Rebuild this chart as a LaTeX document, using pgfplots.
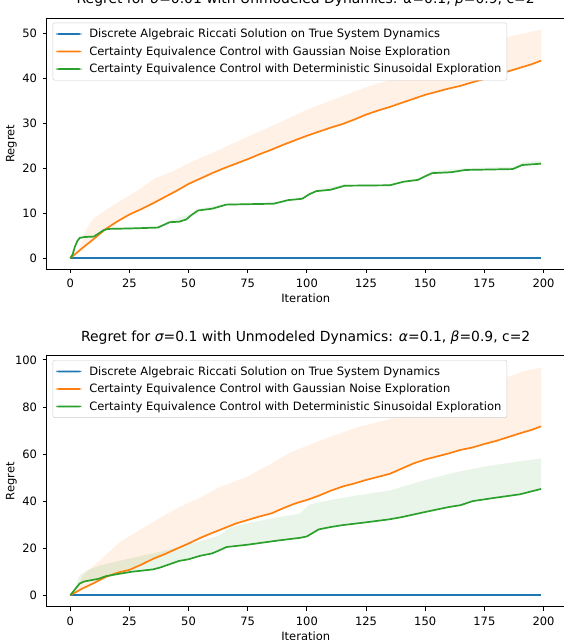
\documentclass[border=0pt]{standalone}
\usepackage{fontspec}
\setmainfont{DejaVu Sans}
\usepackage{pgfplots}
\usepackage{pgfplotstable}
\pgfplotsset{compat=1.18}
\usepgfplotslibrary{fillbetween}

\definecolor{tabblue}{HTML}{1F77B4}
\definecolor{taborange}{HTML}{FF7F0E}
\definecolor{tabgreen}{HTML}{2CA02C}

% sigma = 0.01 : mean curves and upper edges of the shaded bands
\pgfplotstableread{
x y
0 0
5 2.2
10 4.3
15 6.5
20 8.2
25 9.7
30 10.9
35 12.2
40 13.6
45 15
50 16.5
55 17.7
60 18.9
65 20
70 21
75 22
80 23.1
85 24.1
90 25.2
95 26.2
100 27.2
105 28.1
110 29
115 29.8
120 30.8
125 31.9
130 32.8
135 33.6
140 34.5
145 35.4
150 36.3
155 37
160 37.7
165 38.3
170 39.1
175 39.8
180 40.7
185 41.5
190 42.3
195 43.1
199 43.9
}\orangeA
\pgfplotstableread{
x y
0 0
3 1.3
5 3.5
6 5.6
8 7.5
10 8.9
15 10.7
22 13
29 15.2
36 17.8
43 19.2
50 21.1
63 24.1
75 27
90 30.5
100 33
110 35
125 38
150 42
175 46.3
186 49.3
199 50.8
}\orangeAup
\pgfplotstableread{
x y
0 0
1 0.8
2 2.6
3 3.8
4 4.5
6 4.7
10 4.8
12 5.5
14 6.2
16 6.5
25 6.6
37 6.8
40 7.5
42 8
46 8.1
49 8.6
51 9.5
54 10.6
60 11
66 11.9
75 12
86 12.1
92 12.9
98 13.2
101 14.2
104 14.9
110 15.2
116 16.1
135 16.2
141 17
147 17.4
150 18.2
153 18.9
161 19.1
167 19.6
187 19.8
191 20.7
199 21
}\greenA
\pgfplotstableread{
x y
0 0
2 3
4 5
10 5.1
16 6.8
37 7.1
42 8.3
51 9.8
54 10.9
66 12.2
86 12.4
98 13.5
104 15.2
116 16.4
135 16.5
147 17.8
153 19.3
167 20
187 20.3
191 21.3
199 21.7
}\greenAup

% sigma = 0.1
\pgfplotstableread{
x y
0 0
5 2.8
10 5.2
15 7.8
20 9.6
25 10.8
30 13
35 15.5
40 17.5
45 19.8
50 22
55 24.4
60 26.5
65 28.5
70 30.5
75 32
80 33.5
85 34.8
90 37
95 39
100 40.5
105 42.3
110 44.4
115 46.2
120 47.5
125 49
130 50.3
135 51.6
140 53.8
145 56
150 57.7
155 59
160 60.3
165 61.8
170 62.8
175 64.3
180 65.6
185 67.2
190 68.8
195 70.3
199 71.8
}\orangeB
\pgfplotstableread{
x y
0 0
3 3
5 8
8 11
12.5 14.8
21 22.6
29 27.5
38 33
46 37.4
55 41.6
63 45.9
75 50.5
85 56
93 60.7
107 66.3
121 71.3
135 74.8
149 81.9
163 86.2
178 90.4
192 95.3
199 96.7
}\orangeBup
\pgfplotstableread{
x y
0 0
2 2.5
4 5
6 5.9
12 7
15 8.1
20 9
26 10
35 11
38 11.8
42 13.2
46 14.6
50 15.3
55 16.8
60 17.8
63 19.1
66 20.5
75 21.5
88 23.3
97 24.4
100 25
105 28
110 29
115 29.8
125 31
135 32.3
140 33.2
150 35.4
160 37.5
165 38.3
170 40
180 41.5
190 42.9
199 45.2
}\greenB
\pgfplotstableread{
x y
0 0
2 3.5
4 8.5
7 10.5
12.5 12.7
20 14.5
29 16.5
38 18.5
46 20.5
55 23
63 25.4
68 29
77 31
87 33
97 34.7
101 38.5
110 40.5
121 42.4
135 44.5
149 48.7
163 52.3
178 55.2
199 58.2
}\greenBup

\pgfplotsset{
  regret/.style={
    scale only axis, width=518pt, anchor=south west,
    xmin=-9.95, xmax=208.95,
    xtick={0,25,...,200},
    tick align=outside, tick pos=left,
    major tick length=4pt,
    every tick/.style={black, line width=0.9pt},
    axis line style={black, line width=0.9pt},
    /pgf/number format/assume math mode=true,
    ticklabel style={font=\fontsize{11.5}{13}\selectfont, inner sep=0pt},
    xticklabel style={anchor=north, yshift=-6pt},
    yticklabel style={anchor=east, xshift=-5.5pt},
    label style={font=\fontsize{11.5}{13}\selectfont},
    title style={font=\fontsize{13.9}{16}\selectfont, at={(0.5,1)}, anchor=base, yshift=8.3pt},
    xlabel=Iteration, ylabel=Regret,
    xlabel style={at={(axis description cs:0.5,0)}, anchor=center, yshift=-29.3pt},
    ylabel style={at={(axis description cs:-0.068,0.5)}, anchor=center},
    legend cell align=left,
    legend image code/.code={\fill[#1, draw=none] (0pt,-0.85pt) rectangle (25pt,0.85pt); \path (30pt,0pt);},
    legend style={at={(0,1)}, anchor=north west, xshift=6pt, yshift=-4.4pt,
      font=\fontsize{11.5}{13}\selectfont, draw=black!20, rounded corners=2pt,
      fill=white, row sep=3.3pt, inner ysep=4pt, inner xsep=3.5pt},
  },
  meanline/.style={line width=1.7pt},
  band/.style={draw=none, fill opacity=0.11, forget plot},
}

\begin{document}
\begin{tikzpicture}

% ---- sigma = 0.01
\begin{axis}[regret, at={(46.7pt,371pt)}, height=250.7pt,
  ymin=-2.4, ymax=53.3, ytick={0,10,...,50},
  title={Regret for {\itshape σ}=0.01 with Unmodeled Dynamics: {\itshape α}=0.1, {\itshape β}=0.9, c=2}]
\addplot[draw=none, name path=om1, forget plot] table {\orangeA};
\addplot[draw=none, name path=ou1, forget plot] table {\orangeAup};
\addplot[draw=none, name path=gm1, forget plot] table {\greenA};
\addplot[draw=none, name path=gu1, forget plot] table {\greenAup};
\addplot[taborange, band] fill between[of=om1 and ou1];
\addplot[tabgreen, band] fill between[of=gm1 and gu1];

\addplot[tabblue, meanline] coordinates {(0,0) (199,0)};
\addlegendentry{Discrete Algebraic Riccati Solution on True System Dynamics}
\addplot[taborange, meanline] table {\orangeA};
\addlegendentry{Certainty Equivalence Control with Gaussian Noise Exploration}
\addplot[tabgreen, meanline] table {\greenA};
\addlegendentry{Certainty Equivalence Control with Deterministic Sinusoidal Exploration}
\end{axis}

% ---- sigma = 0.1
\begin{axis}[regret, at={(46.7pt,33.3pt)}, height=251pt,
  ymin=-4.85, ymax=101.8, ytick={0,20,...,100},
  title={Regret for {\itshape σ}=0.1 with Unmodeled Dynamics: {\itshape α}=0.1, {\itshape β}=0.9, c=2}]
\addplot[draw=none, name path=om2, forget plot] table {\orangeB};
\addplot[draw=none, name path=ou2, forget plot] table {\orangeBup};
\addplot[draw=none, name path=gm2, forget plot] table {\greenB};
\addplot[draw=none, name path=gu2, forget plot] table {\greenBup};
\addplot[taborange, band] fill between[of=om2 and ou2];
\addplot[tabgreen, band] fill between[of=gm2 and gu2];

\addplot[tabblue, meanline] coordinates {(0,0) (199,0)};
\addlegendentry{Discrete Algebraic Riccati Solution on True System Dynamics}
\addplot[taborange, meanline] table {\orangeB};
\addlegendentry{Certainty Equivalence Control with Gaussian Noise Exploration}
\addplot[tabgreen, meanline] table {\greenB};
\addlegendentry{Certainty Equivalence Control with Deterministic Sinusoidal Exploration}
\end{axis}

\pgfresetboundingbox
\useasboundingbox (0,0) rectangle (564pt,640pt);
\end{tikzpicture}
\end{document}
